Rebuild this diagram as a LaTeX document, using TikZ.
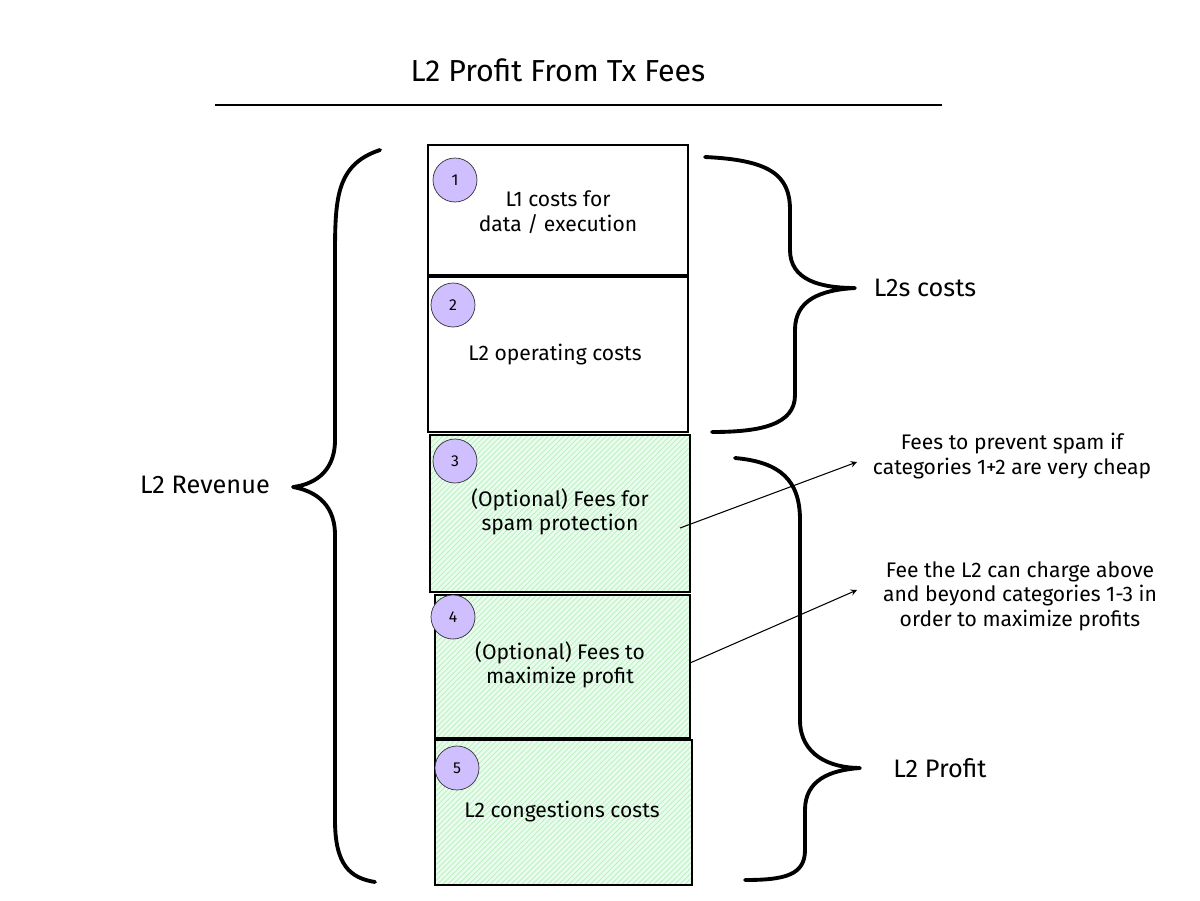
\documentclass[tikz,border=0pt]{standalone}
\usepackage{fontspec}
\setmainfont{Fira Sans}
\usetikzlibrary{patterns}
\definecolor{circ}{HTML}{D0BFFF}
\definecolor{gfill}{HTML}{EBFBEE}
\definecolor{ghatch}{HTML}{B2F2BB}
\begin{document}
\begin{tikzpicture}[x=0.02cm,y=-0.02cm,
 box/.style={draw,line width=0.9pt},
 gbox/.style={box,fill=gfill,preaction={fill=gfill},preaction={pattern=north east lines,pattern color=ghatch}},
 num/.style={circle,draw=black!80,fill=circ,minimum size=0.88cm,inner sep=0pt,font=\small},
 txt/.style={align=center,font=\large},
 brace/.style={line width=2.2pt,line cap=round,line join=round},
 arr/.style={-stealth,line width=0.6pt}]
\useasboundingbox (0,0) rectangle (1200,900);
\node[font=\LARGE] (title) at (558,70) {L2 Profit From Tx Fees};
\coordinate (ul) at (215,105); \coordinate (ur) at (942,105);
\draw[line width=0.8pt] (ul) -- (ur);
\draw[box] (428,145) rectangle (688,275);
\draw[box] (428,277) rectangle (688,432);
\path[preaction={fill=gfill},pattern=north east lines,pattern color=ghatch] (430,435) rectangle (690,592);
\draw[box] (430,435) rectangle (690,592);
\path[preaction={fill=gfill},pattern=north east lines,pattern color=ghatch] (435,595) rectangle (690,738);
\draw[box] (435,595) rectangle (690,738);
\path[preaction={fill=gfill},pattern=north east lines,pattern color=ghatch] (435,740) rectangle (692,885);
\draw[box] (435,740) rectangle (692,885);
\node[num] (n1) at (455,180) {1};
\node[num] (n2) at (453,305) {2};
\node[num] (n3) at (455,461) {3};
\node[num] (n4) at (453,617) {4};
\node[num] (n5) at (457,768) {5};
\node[txt] (t1) at (558,212) {L1 costs for\\data / execution};
\node[txt] (t2) at (555,355) {L2 operating costs};
\node[txt] (t3) at (560,512) {(Optional) Fees for\\spam protection};
\node[txt] (t4) at (560,665) {(Optional) Fees to\\maximize profit};
\node[txt] (t5) at (562,812) {L2 congestions costs};
\draw[brace] (380,150) .. controls (335,165) and (335,200) .. (335,260) -- (335,440) .. controls (335,475) and (310,485) .. (293,487) .. controls (310,490) and (335,500) .. (335,535) -- (335,820) .. controls (335,865) and (350,878) .. (375,882);
\node[font=\Large] (rev) at (205,485) {L2 Revenue};
\draw[brace] (705,157) .. controls (770,160) and (790,175) .. (790,210) -- (790,250) .. controls (790,280) and (820,288) .. (855,288) .. controls (820,290) and (795,300) .. (795,330) -- (795,395) .. controls (795,425) and (760,432) .. (712,432);
\node[font=\Large] (costs) at (925,288) {L2s costs};
\draw[brace] (735,458) .. controls (780,462) and (800,480) .. (800,520) -- (800,720) .. controls (800,755) and (830,768) .. (860,768) .. controls (830,770) and (805,780) .. (805,810) -- (805,850) .. controls (805,875) and (785,880) .. (745,880);
\node[font=\Large] (profit) at (940,768) {L2 Profit};
\node[txt] (note1) at (1012,456) {Fees to prevent spam if\\categories 1+2 are very cheap};
\node[txt] (note2) at (1020,596) {Fee the L2 can charge above\\and beyond categories 1-3 in\\order to maximize profits};
\coordinate (a1) at (680,528); \coordinate (b1) at (857,462);
\coordinate (a2) at (690,663); \coordinate (b2) at (857,590);
\draw[arr] (a1) -- (b1);
\draw[arr] (a2) -- (b2);
\end{tikzpicture}
\end{document}
